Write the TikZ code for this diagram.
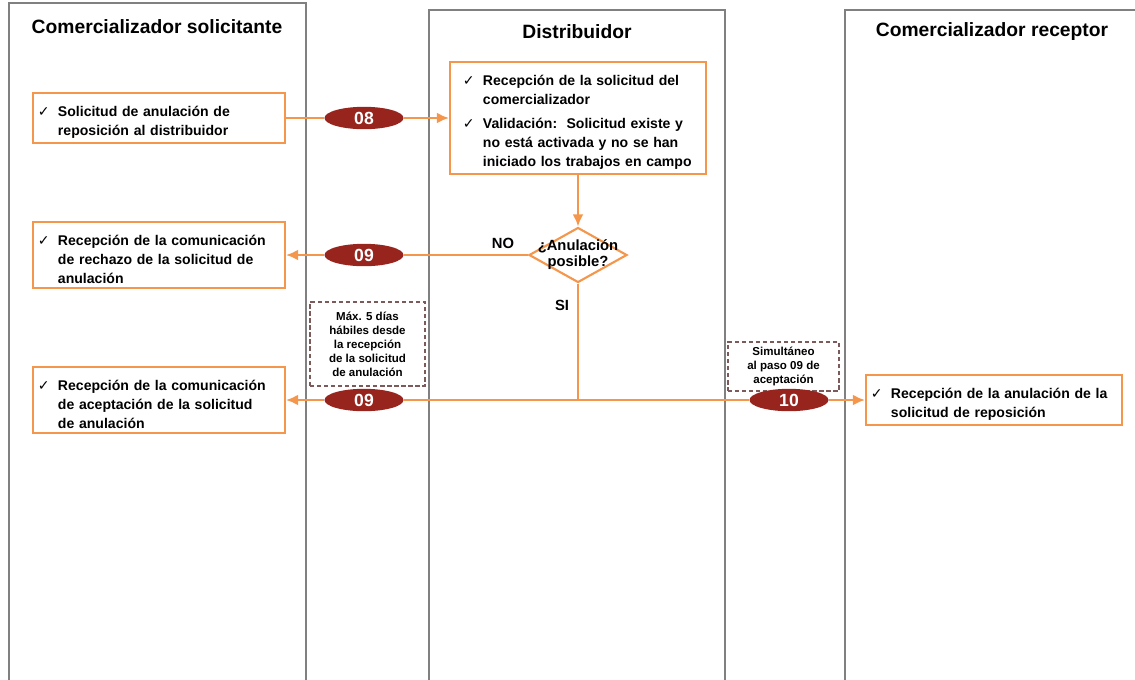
\documentclass[tikz,border=0pt]{standalone}
\usepackage{fontspec}
\setmainfont{Liberation Sans}
\newfontfamily\ckfont{DejaVu Sans}
\usepackage{xcolor}
\usetikzlibrary{arrows.meta,shapes.geometric,positioning}
\definecolor{flow}{RGB}{244,150,76}
\definecolor{stepred}{RGB}{152,36,30}
\definecolor{lanegray}{RGB}{128,128,128}
\definecolor{notered}{RGB}{125,90,90}
\newcommand{\chk}[1]{\par\hangindent=0.5cm\hangafter=1\noindent\makebox[0.5cm][l]{\ckfont\mdseries\fontsize{10}{10}\selectfont ✓}#1\par}

\begin{document}
\begin{tikzpicture}[>={Latex[length=3mm,width=2.7mm]}, x=0.025cm, y=-0.025cm, font=\bfseries,
    lane/.style={draw=lanegray, line width=2pt},
    title/.style={font=\fontsize{13.7}{15}\selectfont\bfseries},
    task/.style={draw=flow, line width=1.5pt, fill=white, minimum width=6.3cm, text width=6.05cm, inner xsep=0.125cm, align=left, font=\fontsize{10}{13.5}\selectfont\bfseries},
    stepnum/.style={ellipse, fill=stepred, text=white, minimum width=1.975cm, minimum height=0.56cm, inner sep=0pt, font=\fontsize{12.5}{12.5}\selectfont\bfseries},
    note/.style={draw=notered, dash pattern=on 3pt off 2pt, line width=0.8pt, align=center, font=\fontsize{8.2}{10}\selectfont\bfseries, inner sep=0pt},
    flowline/.style={draw=flow, line width=1.4pt}]
    \useasboundingbox (0,0) rectangle (1135,679);
    \node at (157.5,353) [lane, minimum width=7.425cm, minimum height=17.5cm] (lsol){};
    \node at (577,360) [lane, minimum width=7.4cm, minimum height=17.5cm] (ldis){};
    \node at (995,360) [lane, minimum width=7.5cm, minimum height=17.5cm] (lrec){};
    \node at (157,27) [title] (tsol){Comercializador solicitante};
    \node at (577,32) [title] (tdis){Distribuidor};
    \node at (992,32) [title] (trec){Comercializador receptor};

    \node at (367.5,344) [note, minimum width=2.875cm, minimum height=2.1cm] (plazo){Máx. 5 días\\hábiles desde\\la recepción\\de la solicitud\\de anulación};
    \node at (783.5,366.5) [note, minimum width=2.775cm, minimum height=1.225cm] (simul){Simultáneo\\al paso 09 de\\aceptación};

    \node at (159,118) [task, minimum height=1.05cm] (sol){\chk{Solicitud de anulación de\newline reposición al distribuidor}};
    \node at (578,118) [task, minimum width=6.4cm, text width=5.75cm, inner xsep=0.325cm, minimum height=2.625cm] (rec){\chk{Recepción de la solicitud del\newline comercializador}\vspace{4pt}\chk{Validación:\ \ Solicitud existe y\newline no está activada y no se han\newline iniciado los trabajos en campo}};
    \node at (159,255) [task, minimum height=1.425cm] (rech){\chk{Recepción de la comunicación\newline de rechazo de la solicitud de\newline anulación}};
    \node at (159,400) [task, minimum height=1.5cm] (acep){\chk{Recepción de la comunicación\newline de aceptación de la solicitud\newline de anulación}};
    \node at (994,400) [task, minimum width=6.4cm, text width=6.15cm, minimum height=1.15cm] (anu){\chk{Recepción de la anulación de la\newline solicitud de reposición}};
    \node at (578,255) [diamond, draw=flow, line width=1.5pt, fill=white, minimum width=2.45cm, minimum height=1.375cm, inner sep=0pt, label={[font=\fontsize{10.5}{11.5}\selectfont\bfseries, align=center]center:¿Anulación\\posible?}] (dec){};
    \node at (503,243) [font=\fontsize{10.5}{12}\selectfont\bfseries] (no){NO};
    \node at (562,305) [font=\fontsize{10.5}{12}\selectfont\bfseries] (si){SI};

    \node at (364,118) [stepnum] (n08){08};
    \node at (364,255) [stepnum] (n09a){09};
    \node at (364,400) [stepnum] (n09b){09};
    \node at (789,400) [stepnum] (n10){10};
    \coordinate (split) at (578,400);

    %% Arrows
    \draw [->, flowline] (sol) -- (n08) -- (rec);
    \draw [->, flowline] (rec) -- (dec);
    \draw [->, flowline] (dec) -- (n09a) -- (rech);
    \draw [flowline] (dec) -- (split);
    \draw [->, flowline] (split) -- (n09b) -- (acep);
    \draw [->, flowline] (split) -- (n10) -- (anu);
\end{tikzpicture}
\end{document}
